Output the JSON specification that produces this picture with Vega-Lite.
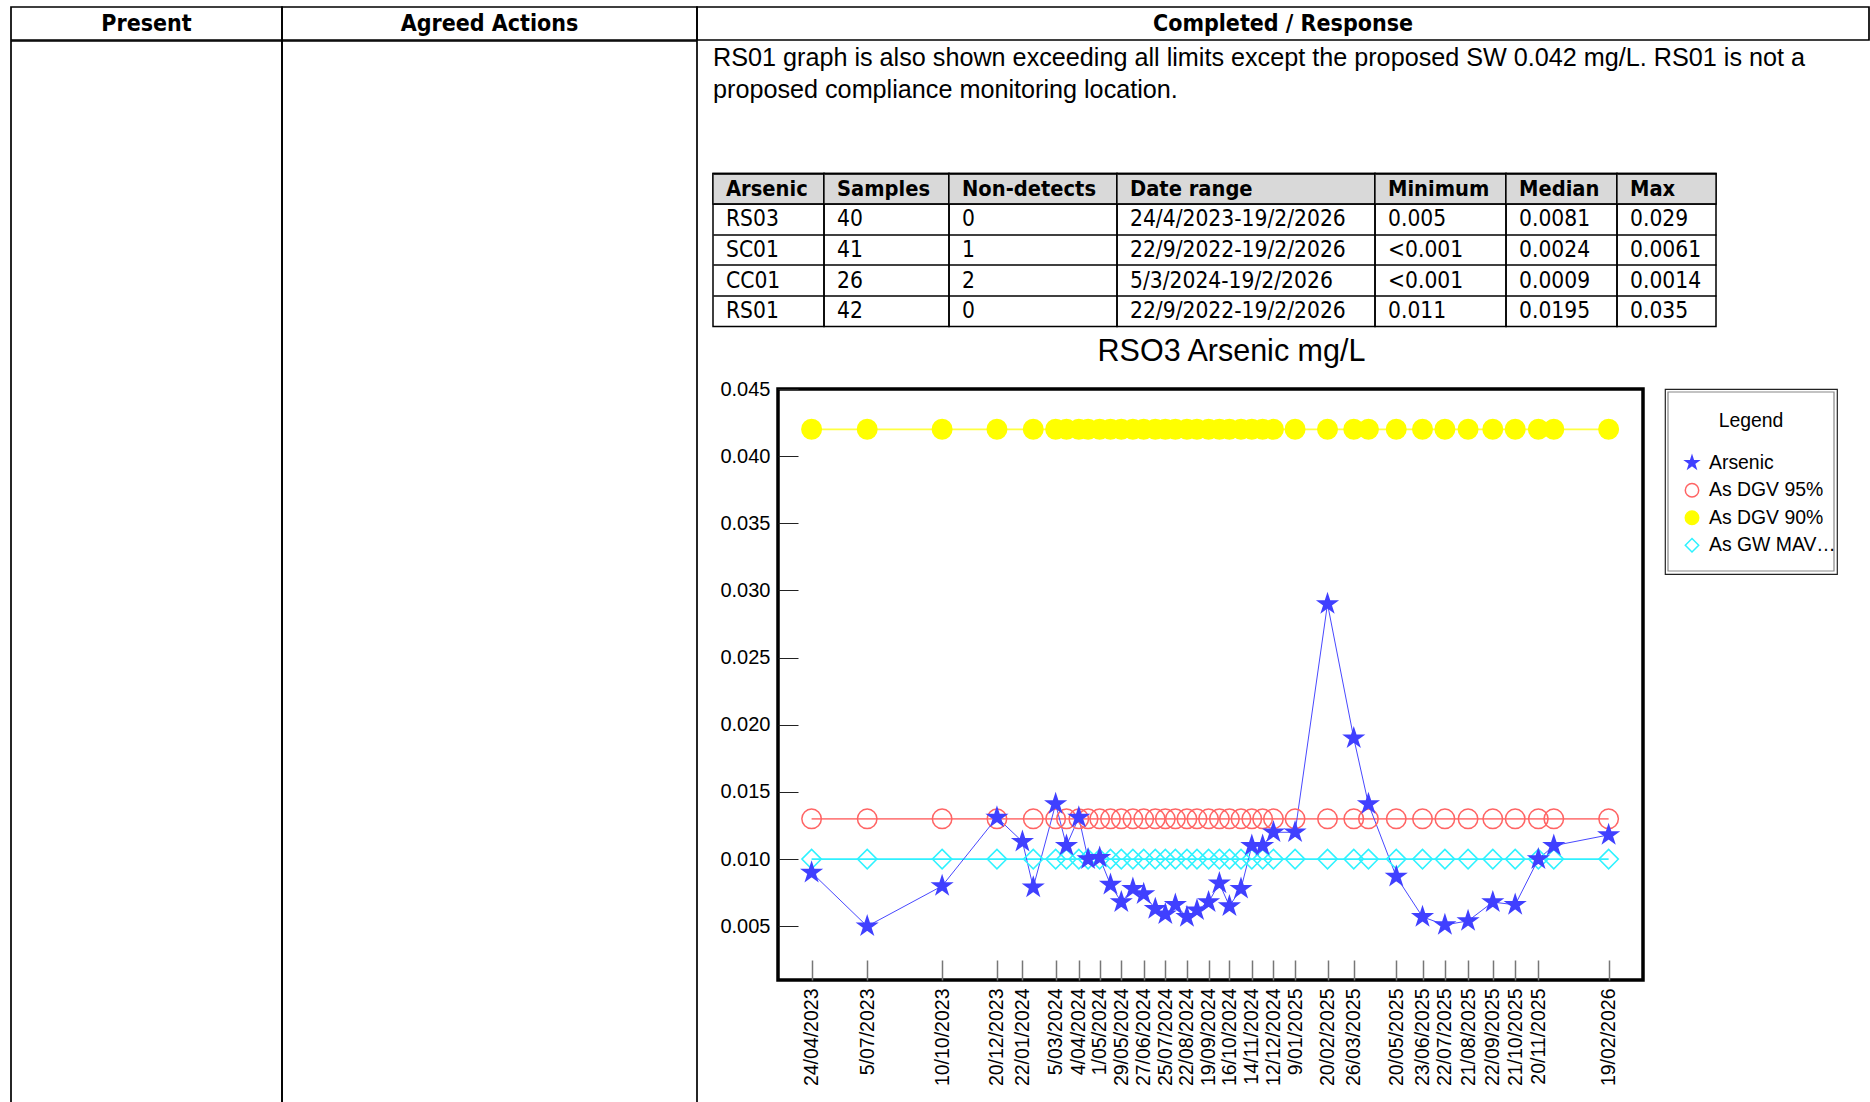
{
  "$schema": "https://vega.github.io/schema/vega-lite/v6.json",
  "padding": {"left": 10, "top": 6, "right": 0, "bottom": 0},
  "background": "white",
  "config": {
    "font": "Liberation Sans",
    "view": {"stroke": "black", "strokeWidth": 1.7},
    "concat": {"spacing": 0}
  },
  "datasets": {
    "docHeader": [{"col": "Present"}, {"col": "Agreed Actions"}, {"col": "Completed / Response"}],
    "paragraph": [
      {"line": "1", "t": "RS01 graph is also shown exceeding all limits except the proposed SW 0.042 mg/L. RS01 is not a"},
      {"line": "2", "t": "proposed compliance monitoring location."}
    ],
    "legendEntries": [
      {"series": "Arsenic", "label": "Arsenic"},
      {"series": "DGV95", "label": "As DGV 95%"},
      {"series": "DGV90", "label": "As DGV 90%"},
      {"series": "MAV", "label": "As GW MAV (0.01 mg/L)"}
    ],
    "table": [
      {"c": "Arsenic", "r": "h", "t": "Arsenic"}, {"c": "Samples", "r": "h", "t": "Samples"}, {"c": "Non-detects", "r": "h", "t": "Non-detects"}, {"c": "Date range", "r": "h", "t": "Date range"}, {"c": "Minimum", "r": "h", "t": "Minimum"}, {"c": "Median", "r": "h", "t": "Median"}, {"c": "Max", "r": "h", "t": "Max"},
      {"c": "Arsenic", "r": "1", "t": "RS03"}, {"c": "Samples", "r": "1", "t": "40"}, {"c": "Non-detects", "r": "1", "t": "0"}, {"c": "Date range", "r": "1", "t": "24/4/2023-19/2/2026"}, {"c": "Minimum", "r": "1", "t": "0.005"}, {"c": "Median", "r": "1", "t": "0.0081"}, {"c": "Max", "r": "1", "t": "0.029"},
      {"c": "Arsenic", "r": "2", "t": "SC01"}, {"c": "Samples", "r": "2", "t": "41"}, {"c": "Non-detects", "r": "2", "t": "1"}, {"c": "Date range", "r": "2", "t": "22/9/2022-19/2/2026"}, {"c": "Minimum", "r": "2", "t": "<0.001"}, {"c": "Median", "r": "2", "t": "0.0024"}, {"c": "Max", "r": "2", "t": "0.0061"},
      {"c": "Arsenic", "r": "3", "t": "CC01"}, {"c": "Samples", "r": "3", "t": "26"}, {"c": "Non-detects", "r": "3", "t": "2"}, {"c": "Date range", "r": "3", "t": "5/3/2024-19/2/2026"}, {"c": "Minimum", "r": "3", "t": "<0.001"}, {"c": "Median", "r": "3", "t": "0.0009"}, {"c": "Max", "r": "3", "t": "0.0014"},
      {"c": "Arsenic", "r": "4", "t": "RS01"}, {"c": "Samples", "r": "4", "t": "42"}, {"c": "Non-detects", "r": "4", "t": "0"}, {"c": "Date range", "r": "4", "t": "22/9/2022-19/2/2026"}, {"c": "Minimum", "r": "4", "t": "0.011"}, {"c": "Median", "r": "4", "t": "0.0195"}, {"c": "Max", "r": "4", "t": "0.035"}
    ],
    "arsenic": [
      {"date": "2023-04-24", "Arsenic": 0.0090, "DGV95": 0.013, "DGV90": 0.042, "MAV": 0.01},
      {"date": "2023-07-05", "Arsenic": 0.0050, "DGV95": 0.013, "DGV90": 0.042, "MAV": 0.01},
      {"date": "2023-10-10", "Arsenic": 0.0080, "DGV95": 0.013, "DGV90": 0.042, "MAV": 0.01},
      {"date": "2023-12-20", "Arsenic": 0.0131, "DGV95": 0.013, "DGV90": 0.042, "MAV": 0.01},
      {"date": "2024-01-22", "Arsenic": 0.0113, "DGV95": null, "DGV90": null, "MAV": null},
      {"date": "2024-02-05", "Arsenic": 0.0079, "DGV95": 0.013, "DGV90": 0.042, "MAV": 0.01},
      {"date": "2024-03-05", "Arsenic": 0.0141, "DGV95": 0.013, "DGV90": 0.042, "MAV": 0.01},
      {"date": "2024-03-19", "Arsenic": 0.0110, "DGV95": 0.013, "DGV90": 0.042, "MAV": 0.01},
      {"date": "2024-04-04", "Arsenic": 0.0131, "DGV95": 0.013, "DGV90": 0.042, "MAV": 0.01},
      {"date": "2024-04-16", "Arsenic": 0.0100, "DGV95": 0.013, "DGV90": 0.042, "MAV": 0.01},
      {"date": "2024-05-01", "Arsenic": 0.0101, "DGV95": 0.013, "DGV90": 0.042, "MAV": 0.01},
      {"date": "2024-05-15", "Arsenic": 0.0081, "DGV95": 0.013, "DGV90": 0.042, "MAV": 0.01},
      {"date": "2024-05-29", "Arsenic": 0.0068, "DGV95": 0.013, "DGV90": 0.042, "MAV": 0.01},
      {"date": "2024-06-13", "Arsenic": 0.0078, "DGV95": 0.013, "DGV90": 0.042, "MAV": 0.01},
      {"date": "2024-06-27", "Arsenic": 0.0074, "DGV95": 0.013, "DGV90": 0.042, "MAV": 0.01},
      {"date": "2024-07-12", "Arsenic": 0.0063, "DGV95": 0.013, "DGV90": 0.042, "MAV": 0.01},
      {"date": "2024-07-25", "Arsenic": 0.0059, "DGV95": 0.013, "DGV90": 0.042, "MAV": 0.01},
      {"date": "2024-08-07", "Arsenic": 0.0066, "DGV95": 0.013, "DGV90": 0.042, "MAV": 0.01},
      {"date": "2024-08-22", "Arsenic": 0.0057, "DGV95": 0.013, "DGV90": 0.042, "MAV": 0.01},
      {"date": "2024-09-04", "Arsenic": 0.0062, "DGV95": 0.013, "DGV90": 0.042, "MAV": 0.01},
      {"date": "2024-09-19", "Arsenic": 0.0068, "DGV95": 0.013, "DGV90": 0.042, "MAV": 0.01},
      {"date": "2024-10-03", "Arsenic": 0.0082, "DGV95": 0.013, "DGV90": 0.042, "MAV": 0.01},
      {"date": "2024-10-16", "Arsenic": 0.0065, "DGV95": 0.013, "DGV90": 0.042, "MAV": 0.01},
      {"date": "2024-10-31", "Arsenic": 0.0078, "DGV95": 0.013, "DGV90": 0.042, "MAV": 0.01},
      {"date": "2024-11-14", "Arsenic": 0.0110, "DGV95": 0.013, "DGV90": 0.042, "MAV": 0.01},
      {"date": "2024-11-28", "Arsenic": 0.0110, "DGV95": 0.013, "DGV90": 0.042, "MAV": 0.01},
      {"date": "2024-12-12", "Arsenic": 0.0120, "DGV95": 0.013, "DGV90": 0.042, "MAV": 0.01},
      {"date": "2025-01-09", "Arsenic": 0.0120, "DGV95": 0.013, "DGV90": 0.042, "MAV": 0.01},
      {"date": "2025-02-20", "Arsenic": 0.0290, "DGV95": 0.013, "DGV90": 0.042, "MAV": 0.01},
      {"date": "2025-03-26", "Arsenic": 0.0190, "DGV95": 0.013, "DGV90": 0.042, "MAV": 0.01},
      {"date": "2025-04-14", "Arsenic": 0.0141, "DGV95": 0.013, "DGV90": 0.042, "MAV": 0.01},
      {"date": "2025-05-20", "Arsenic": 0.0087, "DGV95": 0.013, "DGV90": 0.042, "MAV": 0.01},
      {"date": "2025-06-23", "Arsenic": 0.0057, "DGV95": 0.013, "DGV90": 0.042, "MAV": 0.01},
      {"date": "2025-07-22", "Arsenic": 0.0051, "DGV95": 0.013, "DGV90": 0.042, "MAV": 0.01},
      {"date": "2025-08-21", "Arsenic": 0.0054, "DGV95": 0.013, "DGV90": 0.042, "MAV": 0.01},
      {"date": "2025-09-22", "Arsenic": 0.0068, "DGV95": 0.013, "DGV90": 0.042, "MAV": 0.01},
      {"date": "2025-10-21", "Arsenic": 0.0066, "DGV95": 0.013, "DGV90": 0.042, "MAV": 0.01},
      {"date": "2025-11-20", "Arsenic": 0.0100, "DGV95": 0.013, "DGV90": 0.042, "MAV": 0.01},
      {"date": "2025-12-10", "Arsenic": 0.0110, "DGV95": 0.013, "DGV90": 0.042, "MAV": 0.01},
      {"date": "2026-02-19", "Arsenic": 0.0118, "DGV95": 0.013, "DGV90": 0.042, "MAV": 0.01}
    ]
  },
  "spacing": -1.7,
  "vconcat": [
    {
      "spacing": 0,
      "bounds": "flush",
      "hconcat": [
        {"width": 271, "height": 33, "data": {"name": "docHeader"}, "transform": [{"filter": "datum.col == 'Present'"}],
         "mark": {"type": "text", "font": "DejaVu Sans Condensed, Liberation Sans", "fontSize": 23, "fontWeight": "bold", "color": "black"},
         "encoding": {"x": {"field": "col", "type": "nominal", "scale": {"paddingInner": 0, "paddingOuter": 0}, "axis": null},
                      "y": {"field": "col", "type": "nominal", "scale": {"paddingInner": 0, "paddingOuter": 0}, "axis": null},
                      "text": {"field": "col", "type": "nominal"}}},
        {"width": 415, "height": 33, "data": {"name": "docHeader"}, "transform": [{"filter": "datum.col == 'Agreed Actions'"}],
         "mark": {"type": "text", "font": "DejaVu Sans Condensed, Liberation Sans", "fontSize": 23, "fontWeight": "bold", "color": "black"},
         "encoding": {"x": {"field": "col", "type": "nominal", "scale": {"paddingInner": 0, "paddingOuter": 0}, "axis": null},
                      "y": {"field": "col", "type": "nominal", "scale": {"paddingInner": 0, "paddingOuter": 0}, "axis": null},
                      "text": {"field": "col", "type": "nominal"}}},
        {"width": 1172, "height": 33, "data": {"name": "docHeader"}, "transform": [{"filter": "datum.col == 'Completed / Response'"}],
         "mark": {"type": "text", "font": "DejaVu Sans Condensed, Liberation Sans", "fontSize": 23, "fontWeight": "bold", "color": "black"},
         "encoding": {"x": {"field": "col", "type": "nominal", "scale": {"paddingInner": 0, "paddingOuter": 0}, "axis": null},
                      "y": {"field": "col", "type": "nominal", "scale": {"paddingInner": 0, "paddingOuter": 0}, "axis": null},
                      "text": {"field": "col", "type": "nominal"}}}
      ]
    },
    {
      "spacing": 0,
      "bounds": "flush",
      "hconcat": [
        {"width": 271, "height": 1064, "data": {"values": [{"k": "a"}]}, "mark": {"type": "text", "text": ""},
         "encoding": {"x": {"field": "k", "type": "nominal", "axis": null}, "y": {"field": "k", "type": "nominal", "axis": null}}},
        {"width": 415, "height": 1064, "data": {"values": [{"k": "a"}]}, "mark": {"type": "text", "text": ""},
         "encoding": {"x": {"field": "k", "type": "nominal", "axis": null}, "y": {"field": "k", "type": "nominal", "axis": null}}},
        {"width": 16, "height": 10, "view": {"stroke": null}, "data": {"values": [{"k": "a"}]}, "mark": {"type": "text", "text": ""}},
        {
          "spacing": 6.5,
          "align": "none",
          "vconcat": [
            {
              "width": 1100, "height": 123.5, "view": {"stroke": null},
              "data": {"name": "paragraph"},
              "mark": {"type": "text", "align": "left", "baseline": "middle", "font": "Liberation Sans", "fontSize": 25.2, "color": "black"},
              "encoding": {
                "x": {"datum": 0, "type": "quantitative", "scale": {"domain": [0, 1]}, "axis": null},
                "y": {"field": "line", "type": "nominal", "scale": {"domain": ["1", "2"], "range": [1, 65], "paddingInner": 0, "paddingOuter": 0}, "axis": null},
                "text": {"field": "t", "type": "nominal"}
              }
            },
            {
              "spacing": 0,
              "bounds": "flush",
              "hconcat": [
                {"width": 111, "height": 153, "view": {"stroke": "black", "strokeWidth": 1.5}, "data": {"name": "table"}, "transform": [{"filter": "datum.c == 'Arsenic'"}],
                 "encoding": {
                   "x": {"field": "c", "type": "nominal", "scale": {"paddingInner": 0, "paddingOuter": 0}, "axis": null},
                   "y": {"field": "r", "type": "nominal", "scale": {"domain": ["h", "1", "2", "3", "4"], "paddingInner": 0, "paddingOuter": 0},
                         "axis": {"title": null, "labels": false, "ticks": false, "domain": false, "grid": true, "gridColor": "black", "gridWidth": 1.3, "bandPosition": 0, "zindex": 1, "minExtent": 0, "maxExtent": 0}}
                 },
                 "layer": [
                   {"transform": [{"filter": "datum.r == 'h'"}], "mark": {"type": "rect", "fill": "#d9d9d9", "stroke": "black", "strokeWidth": 1.3}},
                   {"transform": [{"filter": "datum.r == 'h'"}], "mark": {"type": "text", "align": "left", "baseline": "middle", "dx": 13, "font": "DejaVu Sans Condensed, Liberation Sans", "fontSize": 21.7, "fontWeight": "bold", "color": "black"},
                    "encoding": {"x": {"field": "c", "type": "nominal", "bandPosition": 0, "axis": null}, "text": {"field": "t", "type": "nominal"}}},
                   {"transform": [{"filter": "datum.r != 'h'"}], "mark": {"type": "text", "align": "left", "baseline": "middle", "dx": 13, "font": "DejaVu Sans Condensed, Liberation Sans", "fontSize": 22.6, "color": "black"},
                    "encoding": {"x": {"field": "c", "type": "nominal", "bandPosition": 0, "axis": null}, "text": {"field": "t", "type": "nominal"}}}
                 ]},
                {"width": 125, "height": 153, "view": {"stroke": "black", "strokeWidth": 1.5}, "data": {"name": "table"}, "transform": [{"filter": "datum.c == 'Samples'"}],
                 "encoding": {
                   "x": {"field": "c", "type": "nominal", "scale": {"paddingInner": 0, "paddingOuter": 0}, "axis": null},
                   "y": {"field": "r", "type": "nominal", "scale": {"domain": ["h", "1", "2", "3", "4"], "paddingInner": 0, "paddingOuter": 0},
                         "axis": {"title": null, "labels": false, "ticks": false, "domain": false, "grid": true, "gridColor": "black", "gridWidth": 1.3, "bandPosition": 0, "zindex": 1, "minExtent": 0, "maxExtent": 0}}
                 },
                 "layer": [
                   {"transform": [{"filter": "datum.r == 'h'"}], "mark": {"type": "rect", "fill": "#d9d9d9", "stroke": "black", "strokeWidth": 1.3}},
                   {"transform": [{"filter": "datum.r == 'h'"}], "mark": {"type": "text", "align": "left", "baseline": "middle", "dx": 13, "font": "DejaVu Sans Condensed, Liberation Sans", "fontSize": 21.7, "fontWeight": "bold", "color": "black"},
                    "encoding": {"x": {"field": "c", "type": "nominal", "bandPosition": 0, "axis": null}, "text": {"field": "t", "type": "nominal"}}},
                   {"transform": [{"filter": "datum.r != 'h'"}], "mark": {"type": "text", "align": "left", "baseline": "middle", "dx": 13, "font": "DejaVu Sans Condensed, Liberation Sans", "fontSize": 22.6, "color": "black"},
                    "encoding": {"x": {"field": "c", "type": "nominal", "bandPosition": 0, "axis": null}, "text": {"field": "t", "type": "nominal"}}}
                 ]},
                {"width": 168, "height": 153, "view": {"stroke": "black", "strokeWidth": 1.5}, "data": {"name": "table"}, "transform": [{"filter": "datum.c == 'Non-detects'"}],
                 "encoding": {
                   "x": {"field": "c", "type": "nominal", "scale": {"paddingInner": 0, "paddingOuter": 0}, "axis": null},
                   "y": {"field": "r", "type": "nominal", "scale": {"domain": ["h", "1", "2", "3", "4"], "paddingInner": 0, "paddingOuter": 0},
                         "axis": {"title": null, "labels": false, "ticks": false, "domain": false, "grid": true, "gridColor": "black", "gridWidth": 1.3, "bandPosition": 0, "zindex": 1, "minExtent": 0, "maxExtent": 0}}
                 },
                 "layer": [
                   {"transform": [{"filter": "datum.r == 'h'"}], "mark": {"type": "rect", "fill": "#d9d9d9", "stroke": "black", "strokeWidth": 1.3}},
                   {"transform": [{"filter": "datum.r == 'h'"}], "mark": {"type": "text", "align": "left", "baseline": "middle", "dx": 13, "font": "DejaVu Sans Condensed, Liberation Sans", "fontSize": 21.7, "fontWeight": "bold", "color": "black"},
                    "encoding": {"x": {"field": "c", "type": "nominal", "bandPosition": 0, "axis": null}, "text": {"field": "t", "type": "nominal"}}},
                   {"transform": [{"filter": "datum.r != 'h'"}], "mark": {"type": "text", "align": "left", "baseline": "middle", "dx": 13, "font": "DejaVu Sans Condensed, Liberation Sans", "fontSize": 22.6, "color": "black"},
                    "encoding": {"x": {"field": "c", "type": "nominal", "bandPosition": 0, "axis": null}, "text": {"field": "t", "type": "nominal"}}}
                 ]},
                {"width": 258, "height": 153, "view": {"stroke": "black", "strokeWidth": 1.5}, "data": {"name": "table"}, "transform": [{"filter": "datum.c == 'Date range'"}],
                 "encoding": {
                   "x": {"field": "c", "type": "nominal", "scale": {"paddingInner": 0, "paddingOuter": 0}, "axis": null},
                   "y": {"field": "r", "type": "nominal", "scale": {"domain": ["h", "1", "2", "3", "4"], "paddingInner": 0, "paddingOuter": 0},
                         "axis": {"title": null, "labels": false, "ticks": false, "domain": false, "grid": true, "gridColor": "black", "gridWidth": 1.3, "bandPosition": 0, "zindex": 1, "minExtent": 0, "maxExtent": 0}}
                 },
                 "layer": [
                   {"transform": [{"filter": "datum.r == 'h'"}], "mark": {"type": "rect", "fill": "#d9d9d9", "stroke": "black", "strokeWidth": 1.3}},
                   {"transform": [{"filter": "datum.r == 'h'"}], "mark": {"type": "text", "align": "left", "baseline": "middle", "dx": 13, "font": "DejaVu Sans Condensed, Liberation Sans", "fontSize": 21.7, "fontWeight": "bold", "color": "black"},
                    "encoding": {"x": {"field": "c", "type": "nominal", "bandPosition": 0, "axis": null}, "text": {"field": "t", "type": "nominal"}}},
                   {"transform": [{"filter": "datum.r != 'h'"}], "mark": {"type": "text", "align": "left", "baseline": "middle", "dx": 13, "font": "DejaVu Sans Condensed, Liberation Sans", "fontSize": 22.6, "color": "black"},
                    "encoding": {"x": {"field": "c", "type": "nominal", "bandPosition": 0, "axis": null}, "text": {"field": "t", "type": "nominal"}}}
                 ]},
                {"width": 131, "height": 153, "view": {"stroke": "black", "strokeWidth": 1.5}, "data": {"name": "table"}, "transform": [{"filter": "datum.c == 'Minimum'"}],
                 "encoding": {
                   "x": {"field": "c", "type": "nominal", "scale": {"paddingInner": 0, "paddingOuter": 0}, "axis": null},
                   "y": {"field": "r", "type": "nominal", "scale": {"domain": ["h", "1", "2", "3", "4"], "paddingInner": 0, "paddingOuter": 0},
                         "axis": {"title": null, "labels": false, "ticks": false, "domain": false, "grid": true, "gridColor": "black", "gridWidth": 1.3, "bandPosition": 0, "zindex": 1, "minExtent": 0, "maxExtent": 0}}
                 },
                 "layer": [
                   {"transform": [{"filter": "datum.r == 'h'"}], "mark": {"type": "rect", "fill": "#d9d9d9", "stroke": "black", "strokeWidth": 1.3}},
                   {"transform": [{"filter": "datum.r == 'h'"}], "mark": {"type": "text", "align": "left", "baseline": "middle", "dx": 13, "font": "DejaVu Sans Condensed, Liberation Sans", "fontSize": 21.7, "fontWeight": "bold", "color": "black"},
                    "encoding": {"x": {"field": "c", "type": "nominal", "bandPosition": 0, "axis": null}, "text": {"field": "t", "type": "nominal"}}},
                   {"transform": [{"filter": "datum.r != 'h'"}], "mark": {"type": "text", "align": "left", "baseline": "middle", "dx": 13, "font": "DejaVu Sans Condensed, Liberation Sans", "fontSize": 22.6, "color": "black"},
                    "encoding": {"x": {"field": "c", "type": "nominal", "bandPosition": 0, "axis": null}, "text": {"field": "t", "type": "nominal"}}}
                 ]},
                {"width": 111, "height": 153, "view": {"stroke": "black", "strokeWidth": 1.5}, "data": {"name": "table"}, "transform": [{"filter": "datum.c == 'Median'"}],
                 "encoding": {
                   "x": {"field": "c", "type": "nominal", "scale": {"paddingInner": 0, "paddingOuter": 0}, "axis": null},
                   "y": {"field": "r", "type": "nominal", "scale": {"domain": ["h", "1", "2", "3", "4"], "paddingInner": 0, "paddingOuter": 0},
                         "axis": {"title": null, "labels": false, "ticks": false, "domain": false, "grid": true, "gridColor": "black", "gridWidth": 1.3, "bandPosition": 0, "zindex": 1, "minExtent": 0, "maxExtent": 0}}
                 },
                 "layer": [
                   {"transform": [{"filter": "datum.r == 'h'"}], "mark": {"type": "rect", "fill": "#d9d9d9", "stroke": "black", "strokeWidth": 1.3}},
                   {"transform": [{"filter": "datum.r == 'h'"}], "mark": {"type": "text", "align": "left", "baseline": "middle", "dx": 13, "font": "DejaVu Sans Condensed, Liberation Sans", "fontSize": 21.7, "fontWeight": "bold", "color": "black"},
                    "encoding": {"x": {"field": "c", "type": "nominal", "bandPosition": 0, "axis": null}, "text": {"field": "t", "type": "nominal"}}},
                   {"transform": [{"filter": "datum.r != 'h'"}], "mark": {"type": "text", "align": "left", "baseline": "middle", "dx": 13, "font": "DejaVu Sans Condensed, Liberation Sans", "fontSize": 22.6, "color": "black"},
                    "encoding": {"x": {"field": "c", "type": "nominal", "bandPosition": 0, "axis": null}, "text": {"field": "t", "type": "nominal"}}}
                 ]},
                {"width": 99, "height": 153, "view": {"stroke": "black", "strokeWidth": 1.5}, "data": {"name": "table"}, "transform": [{"filter": "datum.c == 'Max'"}],
                 "encoding": {
                   "x": {"field": "c", "type": "nominal", "scale": {"paddingInner": 0, "paddingOuter": 0}, "axis": null},
                   "y": {"field": "r", "type": "nominal", "scale": {"domain": ["h", "1", "2", "3", "4"], "paddingInner": 0, "paddingOuter": 0},
                         "axis": {"title": null, "labels": false, "ticks": false, "domain": false, "grid": true, "gridColor": "black", "gridWidth": 1.3, "bandPosition": 0, "zindex": 1, "minExtent": 0, "maxExtent": 0}}
                 },
                 "layer": [
                   {"transform": [{"filter": "datum.r == 'h'"}], "mark": {"type": "rect", "fill": "#d9d9d9", "stroke": "black", "strokeWidth": 1.3}},
                   {"transform": [{"filter": "datum.r == 'h'"}], "mark": {"type": "text", "align": "left", "baseline": "middle", "dx": 13, "font": "DejaVu Sans Condensed, Liberation Sans", "fontSize": 21.7, "fontWeight": "bold", "color": "black"},
                    "encoding": {"x": {"field": "c", "type": "nominal", "bandPosition": 0, "axis": null}, "text": {"field": "t", "type": "nominal"}}},
                   {"transform": [{"filter": "datum.r != 'h'"}], "mark": {"type": "text", "align": "left", "baseline": "middle", "dx": 13, "font": "DejaVu Sans Condensed, Liberation Sans", "fontSize": 22.6, "color": "black"},
                    "encoding": {"x": {"field": "c", "type": "nominal", "bandPosition": 0, "axis": null}, "text": {"field": "t", "type": "nominal"}}}
                 ]}
              ]
            },
            {
              "spacing": 0,
              "hconcat": [
                {"width": 1, "height": 10, "view": {"stroke": null}, "data": {"values": [{"k": "a"}]}, "mark": {"type": "text", "text": ""}},
                {
                  "width": 865, "height": 591,
                  "view": {"stroke": "black", "strokeWidth": 3.5},
                  "title": {"text": "RSO3 Arsenic mg/L", "font": "Liberation Sans", "fontSize": 30.5, "fontWeight": "normal", "anchor": "middle", "frame": "group", "dx": 21, "baseline": "top", "offset": 12, "color": "black"},
                  "data": {"name": "arsenic"},
                  "transform": [
                    {"fold": ["Arsenic", "DGV95", "DGV90", "MAV"], "as": ["series", "value"]},
                    {"filter": "isValid(datum.value)"}
                  ],
                  "encoding": {
                    "x": {"field": "date", "type": "temporal",
                          "scale": {"type": "utc", "domain": [{"year": 2023, "month": 3, "date": 11, "hours": 12, "utc": true}, {"year": 2026, "month": 4, "date": 4, "hours": 12, "utc": true}]},
                          "axis": {"title": null, "format": "%-d/%m/%Y", "labelAngle": -90, "labelAlign": "right", "labelBaseline": "middle",
                                   "labelFont": "Liberation Sans", "labelFontSize": 19.5, "labelColor": "black", "labelPadding": 28, "labelOverlap": false, "labelFlush": false, "labelBound": false,
                                   "domain": false, "grid": false, "tickSize": -20, "tickColor": "#777", "tickWidth": 1.5,
                                   "values": [
                                     {"year": 2023, "month": 4, "date": 24, "utc": true}, {"year": 2023, "month": 7, "date": 5, "utc": true}, {"year": 2023, "month": 10, "date": 10, "utc": true},
                                     {"year": 2023, "month": 12, "date": 20, "utc": true}, {"year": 2024, "month": 1, "date": 22, "utc": true}, {"year": 2024, "month": 3, "date": 5, "utc": true},
                                     {"year": 2024, "month": 4, "date": 4, "utc": true}, {"year": 2024, "month": 5, "date": 1, "utc": true}, {"year": 2024, "month": 5, "date": 29, "utc": true},
                                     {"year": 2024, "month": 6, "date": 27, "utc": true}, {"year": 2024, "month": 7, "date": 25, "utc": true}, {"year": 2024, "month": 8, "date": 22, "utc": true},
                                     {"year": 2024, "month": 9, "date": 19, "utc": true}, {"year": 2024, "month": 10, "date": 16, "utc": true}, {"year": 2024, "month": 11, "date": 14, "utc": true},
                                     {"year": 2024, "month": 12, "date": 12, "utc": true}, {"year": 2025, "month": 1, "date": 9, "utc": true}, {"year": 2025, "month": 2, "date": 20, "utc": true},
                                     {"year": 2025, "month": 3, "date": 26, "utc": true}, {"year": 2025, "month": 5, "date": 20, "utc": true}, {"year": 2025, "month": 6, "date": 23, "utc": true},
                                     {"year": 2025, "month": 7, "date": 22, "utc": true}, {"year": 2025, "month": 8, "date": 21, "utc": true}, {"year": 2025, "month": 9, "date": 22, "utc": true},
                                     {"year": 2025, "month": 10, "date": 21, "utc": true}, {"year": 2025, "month": 11, "date": 20, "utc": true}, {"year": 2026, "month": 2, "date": 19, "utc": true}
                                   ]}},
                    "y": {"field": "value", "type": "quantitative",
                          "scale": {"domain": [0.001, 0.045], "nice": false, "zero": false},
                          "axis": {"title": null, "values": [0.005, 0.01, 0.015, 0.02, 0.025, 0.03, 0.035, 0.04, 0.045], "format": ".3f",
                                   "labelFont": "Liberation Sans", "labelFontSize": 20, "labelColor": "black", "labelPadding": 28, "labelOverlap": false,
                                   "domain": false, "grid": false, "tickSize": -20, "tickColor": "#222", "tickWidth": 1, "minExtent": 62, "maxExtent": 62}}
                  },
                  "layer": [
                    {"transform": [{"filter": "datum.series != 'Arsenic'"}],
                     "mark": {"type": "line", "strokeWidth": 1.8},
                     "encoding": {"color": {"field": "series", "type": "nominal", "scale": {"domain": ["Arsenic", "DGV95", "DGV90", "MAV"], "range": ["#4848ff", "#ff8080", "#ffff40", "#30f0ff"]}, "legend": null}}},
                    {"transform": [{"filter": "datum.series == 'Arsenic'"}],
                     "mark": {"type": "line", "strokeWidth": 1},
                     "encoding": {"color": {"field": "series", "type": "nominal", "scale": {"domain": ["Arsenic", "DGV95", "DGV90", "MAV"], "range": ["#4848ff", "#ff8080", "#ffff40", "#30f0ff"]}, "legend": null}}},
                    {"mark": {"type": "point", "opacity": 1, "size": 380, "strokeWidth": 1.5},
                     "encoding": {
                       "shape": {"field": "series", "type": "nominal",
                                 "scale": {"domain": ["Arsenic", "DGV95", "DGV90", "MAV"], "range": ["M0,-1L0.2245,-0.309L0.9511,-0.309L0.3633,0.118L0.5878,0.809L0,0.382L-0.5878,0.809L-0.3633,0.118L-0.9511,-0.309L-0.2245,-0.309Z", "circle", "circle", "diamond"]},
                                 "legend": null},
                       "fill": {"field": "series", "type": "nominal",
                                "scale": {"domain": ["Arsenic", "DGV95", "DGV90", "MAV"], "range": ["#4040ff", "transparent", "#ffff00", "transparent"]},
                                "legend": null},
                       "stroke": {"field": "series", "type": "nominal",
                                  "scale": {"domain": ["Arsenic", "DGV95", "DGV90", "MAV"], "range": ["#4040ff", "#ff6464", "#ffff00", "#2ef2ff"]},
                                  "legend": null},
                       "order": {"field": "series", "sort": "descending"}
                     }}
                  ]
                },
                {"width": 19, "height": 10, "view": {"stroke": null}, "data": {"values": [{"k": "a"}]}, "mark": {"type": "text", "text": ""}},
                {
                  "width": 172, "height": 185,
                  "view": {"stroke": "#222", "strokeWidth": 1.2, "fill": "white"},
                  "resolve": {"scale": {"x": "independent", "y": "independent"}},
                  "layer": [
                    {"data": {"values": [{"box": "inner"}]},
                     "mark": {"type": "rect", "fill": null, "stroke": "#888", "strokeWidth": 1.2},
                     "encoding": {"x": {"datum": 0, "type": "quantitative", "scale": {"domain": [0, 1], "range": [3, 169]}, "axis": null},
                                  "x2": {"datum": 1},
                                  "y": {"datum": 0, "type": "quantitative", "scale": {"domain": [0, 1], "range": [3, 182]}, "axis": null},
                                  "y2": {"datum": 1}}},
                    {"data": {"values": [{"t": "Legend"}]},
                     "mark": {"type": "text", "align": "center", "baseline": "middle", "font": "Liberation Sans", "fontSize": 19.4, "color": "black"},
                     "encoding": {"x": {"datum": 0.5, "type": "quantitative", "scale": {"domain": [0, 1]}, "axis": null},
                                  "y": {"datum": 0.5, "type": "quantitative", "scale": {"domain": [0, 1], "range": [0, 64]}, "axis": null},
                                  "text": {"field": "t", "type": "nominal"}}},
                    {"data": {"name": "legendEntries"},
                     "mark": {"type": "point", "opacity": 1, "size": 180, "strokeWidth": 1.5},
                     "encoding": {"x": {"datum": 0, "type": "quantitative", "scale": {"domain": [0, 1], "range": [27, 44]}, "axis": null},
                                  "y": {"field": "series", "type": "nominal", "scale": {"domain": ["Arsenic", "DGV95", "DGV90", "MAV"], "range": [60, 170], "paddingInner": 0, "paddingOuter": 0}, "axis": null},
                                  "shape": {"field": "series", "type": "nominal",
                                            "scale": {"domain": ["Arsenic", "DGV95", "DGV90", "MAV"], "range": ["M0,-1L0.2245,-0.309L0.9511,-0.309L0.3633,0.118L0.5878,0.809L0,0.382L-0.5878,0.809L-0.3633,0.118L-0.9511,-0.309L-0.2245,-0.309Z", "circle", "circle", "diamond"]},
                                            "legend": null},
                                  "fill": {"field": "series", "type": "nominal",
                                           "scale": {"domain": ["Arsenic", "DGV95", "DGV90", "MAV"], "range": ["#4040ff", "transparent", "#ffff00", "transparent"]},
                                           "legend": null},
                                  "stroke": {"field": "series", "type": "nominal",
                                             "scale": {"domain": ["Arsenic", "DGV95", "DGV90", "MAV"], "range": ["#4040ff", "#ff6464", "#ffff00", "#2ef2ff"]},
                                             "legend": null}}},
                    {"data": {"name": "legendEntries"},
                     "mark": {"type": "text", "align": "left", "baseline": "middle", "font": "Liberation Sans", "fontSize": 19.4, "color": "black", "limit": 127},
                     "encoding": {"x": {"datum": 1, "type": "quantitative", "scale": {"domain": [0, 1], "range": [27, 44]}, "axis": null},
                                  "y": {"field": "series", "type": "nominal", "scale": {"domain": ["Arsenic", "DGV95", "DGV90", "MAV"], "range": [60, 170], "paddingInner": 0, "paddingOuter": 0}, "axis": null},
                                  "text": {"field": "label", "type": "nominal"}}}
                  ]
                }
              ]
            }
          ]
        }
      ]
    }
  ]
}
